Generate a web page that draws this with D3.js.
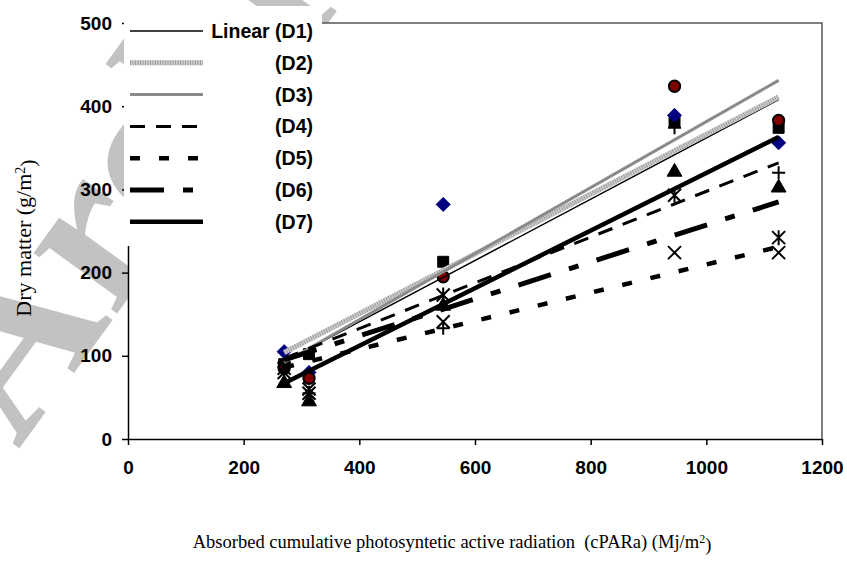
<!DOCTYPE html>
<html>
<head>
<meta charset="utf-8">
<script src="https://cdn.jsdelivr.net/npm/d3@7"></script>
<style>
  body { margin: 0; background: #fff; }
  svg { display: block; }
</style>
</head>
<body>
<div id="chart"></div>
<script>
// absorbed cPARa (x values)
const cpara = [270, 313, 545, 945, 1125];

// dry matter per series
const seriesNames = ["D1", "D2", "D3", "D4", "D5", "D6", "D7"];
const d1 = [90, 102, 213, 381, 374];
const d2 = [105, 80, 282, 389, 356];
const d3v = [85, 73, 195, 424, 383];
const d4 = [67, 45, 160, 321, 302];
const d5 = [80, 60, 141, 224, 224];
const d6 = [85, 55, 173, 293, 242];
const d7 = [90, 55, 133, 374, 320];

// linear trend values at first / last cPARa
const trendStart = [93, 104, 92, 97, 86, 95, 67];
const trendEnd = [408, 411, 431, 332, 231, 285, 363];

const xTicks = [0, 200, 400, 600, 800, 1000, 1200];
const yTicks = [0, 100, 200, 300, 400, 500];

const values = [d1, d2, d3v, d4, d5, d6, d7];

const W = 847, H = 580;
const plot = { left: 128, top: 23, right: 822, bottom: 439 };

const svg = d3.select("#chart").append("svg").attr("width", W).attr("height", H);

// watermark behind everything
svg.append("text")
  .attr("transform", "translate(18,450) rotate(-54)")
  .style("font-family", "'Liberation Serif', 'Times New Roman', serif")
  .style("font-size", "225px")
  .style("font-weight", "bold")
  .attr("fill", "#c2c2c2")
  .text("Archive of SID");

const x = d3.scaleLinear().domain([0, 1200]).range([plot.left, plot.right]);
const y = d3.scaleLinear().domain([0, 500]).range([plot.bottom, plot.top]);

// plot area
svg.append("rect")
  .attr("x", plot.left).attr("y", plot.top)
  .attr("width", plot.right - plot.left).attr("height", plot.bottom - plot.top)
  .attr("fill", "#fff");
svg.append("path")
  .attr("d", `M${plot.left},${plot.top}H${plot.right}V${plot.bottom}`)
  .attr("fill", "none").attr("stroke", "#555").attr("stroke-width", 1.5);

// axes
const tickFont = "'Liberation Sans', Arial, sans-serif";
const xAxis = svg.append("g")
  .attr("transform", `translate(0,${plot.bottom})`)
  .call(d3.axisBottom(x).tickValues(xTicks).tickFormat(d3.format("d"))
    .tickSize(6).tickSizeOuter(0).tickPadding(16));
const yAxis = svg.append("g")
  .attr("transform", `translate(${plot.left},0)`)
  .call(d3.axisLeft(y).tickValues(yTicks).tickFormat(d3.format("d"))
    .tickSize(6).tickSizeOuter(0).tickPadding(10));

[xAxis, yAxis].forEach((g) => {
  g.attr("font-family", null).attr("font-size", null);
  g.select(".domain").attr("stroke", "#000").attr("stroke-width", 1.5);
  g.selectAll(".tick line").attr("stroke", "#000").attr("stroke-width", 1.5);
  g.selectAll("text")
    .style("font-family", tickFont)
    .style("font-size", "19px")
    .style("font-weight", "bold")
    .attr("fill", "#000");
});

// markers
const markerShapes = ["square", "diamond", "circle", "triangle", "x", "asterisk", "plus"];

function markerPath(type) {
  const r = 6.5;
  switch (type) {
    case "square": return d3.symbol(d3.symbolSquare, 120)();
    case "circle": return d3.symbol(d3.symbolCircle, 100)();
    case "triangle": return d3.symbol(d3.symbolTriangle, 95)();
    case "diamond": return `M0,${-r - 0.5}L${r + 0.5},0L0,${r + 0.5}L${-r - 0.5},0Z`;
    case "x": return `M${-r},${-r}L${r},${r}M${-r},${r}L${r},${-r}`;
    case "asterisk": return `M${-r},${-r}L${r},${r}M${-r},${r}L${r},${-r}M0,${-r - 1}V${r + 1}`;
    case "plus": return `M${-r},0H${r}M0,${-r}V${r}`;
  }
}

const markerStyle = {
  square: { fill: "#000", stroke: "#000", sw: 1 },
  diamond: { fill: "#000080", stroke: "#000080", sw: 1 },
  circle: { fill: "#800000", stroke: "#000", sw: 2 },
  triangle: { fill: "#000", stroke: "#000", sw: 1 },
  x: { fill: "none", stroke: "#000", sw: 2 },
  asterisk: { fill: "none", stroke: "#000", sw: 2 },
  plus: { fill: "none", stroke: "#000", sw: 2 },
};

values.forEach((vals, i) => {
  const shape = markerShapes[i];
  const st = markerStyle[shape];
  svg.append("g")
    .selectAll("path")
    .data(vals.map((v, j) => ({ x: cpara[j], y: v })))
    .enter()
    .append("path")
    .attr("transform", (d) => `translate(${x(d.x)},${y(d.y)})`)
    .attr("d", markerPath(shape))
    .attr("fill", st.fill)
    .attr("stroke", st.stroke)
    .attr("stroke-width", st.sw);
});

// trendline styles
const lineStyles = [
  { color: "#000", width: 1.5, dash: null },
  { color: "#cfcfcf", width: 5, dash: null, hatch: "#9c9c9c" },
  { color: "#8a8a8a", width: 3, dash: null },
  { color: "#000", width: 3, dash: "15,11" },
  { color: "#000", width: 4.5, dash: "10,19" },
  { color: "#000", width: 5, dash: "34,19,10,19" },
  { color: "#000", width: 4.5, dash: null },
];

function drawLine(g, x1, y1, x2, y2, s) {
  g.append("line")
    .attr("x1", x1).attr("y1", y1).attr("x2", x2).attr("y2", y2)
    .attr("stroke", s.color)
    .attr("stroke-width", s.width)
    .attr("stroke-dasharray", s.dash);
  if (s.hatch) {
    g.append("line")
      .attr("x1", x1).attr("y1", y1).attr("x2", x2).attr("y2", y2)
      .attr("stroke", s.hatch)
      .attr("stroke-width", s.width)
      .attr("stroke-dasharray", "1,1.5");
  }
}

const trendG = svg.append("g");
seriesNames.forEach((n, i) => {
  drawLine(trendG,
    x(cpara[0]), y(trendStart[i]),
    x(cpara[cpara.length - 1]), y(trendEnd[i]),
    lineStyles[i]);
});

// legend
const legend = svg.append("g");
legend.append("rect")
  .attr("x", 124).attr("y", 6).attr("width", 198).attr("height", 240)
  .attr("fill", "#fff");
seriesNames.forEach((n, i) => {
  const ly = 31 + i * 31.8;
  drawLine(legend, 130, ly, 203, ly, lineStyles[i]);
  legend.append("text")
    .attr("x", 313).attr("y", ly)
    .attr("dy", "0.36em")
    .attr("text-anchor", "end")
    .style("font-family", tickFont)
    .style("font-size", "19.5px")
    .style("font-weight", "bold")
    .text(i === 0 ? `Linear (${n})` : `(${n})`);
});

// axis titles
const yTitle = svg.append("text")
  .attr("transform", "translate(31,238) rotate(-90)")
  .attr("text-anchor", "middle")
  .style("font-family", "'Liberation Serif', 'Times New Roman', serif")
  .style("font-size", "22px");
yTitle.append("tspan").text("Dry matter (g/m");
yTitle.append("tspan").attr("dy", "-0.45em").style("font-size", "14px").text("2");
yTitle.append("tspan").attr("dy", "0.45em").text(")");

const xTitle = svg.append("text")
  .attr("x", 452).attr("y", 548)
  .attr("text-anchor", "middle")
  .style("font-family", "'Liberation Serif', 'Times New Roman', serif")
  .style("font-size", "18.5px")
  .attr("xml:space", "preserve");
xTitle.append("tspan").text("Absorbed cumulative photosyntetic active radiation  (cPARa) (Mj/m");
xTitle.append("tspan").attr("dy", "-0.45em").style("font-size", "12px").text("2");
xTitle.append("tspan").attr("dy", "0.45em").text(")");
</script>
</body>
</html>
